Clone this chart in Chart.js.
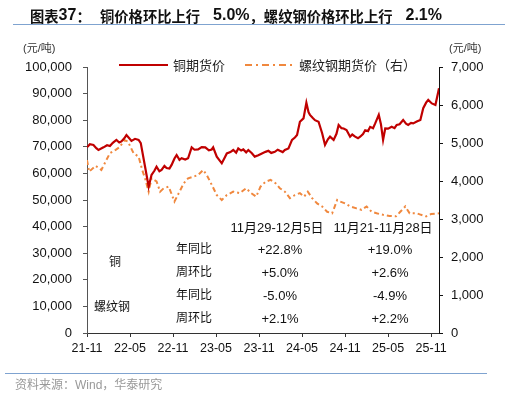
<!DOCTYPE html>
<html><head><meta charset="utf-8">
<script src="https://cdn.jsdelivr.net/npm/chart.js@4"></script>
<style>
html,body{margin:0;padding:0;background:#fff;}
#wrap{position:relative;width:520px;height:399px;overflow:hidden;font-family:"Liberation Sans","Noto Sans CJK SC",sans-serif;}
canvas{position:absolute;left:0;top:0;}
.t{position:absolute;white-space:nowrap;line-height:1;}
.hl{position:absolute;height:1px;background:#7FA3D0;}
.c{transform:translateX(-50%);}
.ti{position:absolute;top:0;height:30px;display:flex;align-items:center;white-space:nowrap;font-weight:bold;color:#111;}
.ti .z{font-family:"Noto Sans CJK SC";font-size:14.3px;}
.ti .n{font-family:"Liberation Sans";font-size:16px;}
</style></head><body>
<div id="wrap">
<canvas id="c" width="520" height="399"></canvas>
<div class="ti" style="left:30px;"><span class="z">图表</span><span class="n">37</span><span class="z">：</span></div>
<div class="ti" style="left:100px;"><span class="z">铜价格环比上行</span><span class="n" style="margin-left:13px;">5.0%</span><span class="z">，螺纹钢价格环比上行</span><span class="n" style="margin-left:13px;">2.1%</span></div>
<div class="hl" style="left:13px;top:24px;width:492px;"></div>
<div class="t" style="left:23px;top:43px;font-size:11px;color:#333;">(元/吨)</div>
<div class="t" style="left:449px;top:43px;font-size:11px;color:#333;">(元/吨)</div>
<div id="tbl"></div>
<div class="hl" style="left:5px;top:373px;width:482px;"></div>
<div class="t" style="left:15px;top:379px;font-size:12px;color:#999;">资料来源：Wind，华泰研究</div>
</div>
<script>
// ---- data (month index: 0 = 2021-11) ----
const xTickLabels = ["21-11","22-05","22-11","23-05","23-11","24-05","24-11","25-05","25-11"];
const copperMonths = [0,0.4,0.9,1.3,1.6,2.3,2.8,3.2,3.6,4.1,4.5,4.8,5.2,5.5,5.8,6.2,6.7,7.2,7.5,8.1,8.6,9.0,9.4,9.7,10.1,10.4,10.8,11.1,11.5,11.8,12.2,12.5,12.9,13.2,13.7,14.1,14.6,15.0,15.5,16.0,16.5,17.0,17.4,17.6,18.1,18.8,19.2,19.5,20.0,20.4,20.8,21.1,21.5,21.8,22.2,22.5,23.0,23.4,23.9,24.4,24.9,25.3,25.7,26.2,26.6,26.9,27.3,27.6,28.1,28.6,29.0,29.3,29.7,30.2,30.6,30.9,31.1,31.5,31.8,32.3,32.8,33.2,33.6,33.9,34.4,34.8,35.1,35.5,35.8,36.2,36.7,37.0,37.4,37.8,38.1,38.5,38.8,39.2,39.5,39.9,40.2,40.7,41.0,41.3,41.6,42.0,42.5,42.9,43.2,43.6,44.1,44.5,44.8,45.2,45.5,46.0,46.5,46.9,47.3,47.6,48.1,48.6,49.0,49.1];
const copperPrice = [69800,71000,70700,69500,68800,69800,70600,70300,71500,72600,71600,72000,73200,74400,73500,72200,73000,72600,71400,62500,55000,59400,61000,62500,60800,61300,62800,62000,61800,63200,65600,66900,65100,65700,65200,65700,69800,68900,69000,69900,69800,68700,69000,69800,66300,63800,65900,67500,68000,68800,67800,69400,68600,69000,67900,68800,67600,66300,66800,67500,68100,68500,67700,68100,68900,68500,68000,68800,69400,72600,73500,74400,79400,80700,86600,83000,82000,80800,80000,79400,75100,70700,72800,73800,72600,74900,78200,77000,76900,76300,73800,74600,73800,73200,73800,74800,76200,75900,77500,77000,78800,82000,78500,72600,76900,76800,77500,77000,78200,78500,80100,78700,78200,79000,78800,79500,80100,84500,86600,87600,86300,85700,90700,92000];
const rebarMonths = [0,0.3,1.2,2.0,2.7,3.2,4.0,4.6,5.2,5.7,6.5,7.2,7.7,8.1,8.6,9.0,9.7,10.2,10.7,11.4,12.2,12.8,13.5,14.1,14.8,15.5,16.2,16.7,17.4,18.1,18.8,19.5,20.4,21.3,22.2,22.9,23.6,24.2,24.9,25.6,26.3,26.9,27.6,28.3,29.0,29.7,30.3,30.8,31.4,32.1,32.8,33.5,34.2,34.9,35.3,36.0,36.7,37.6,38.3,39.0,39.7,40.4,41.3,42.2,43.1,43.7,44.4,45.0,46.0,46.6,47.3,48.0,49.1];
const rebarPrice = [4550,4245,4400,4290,4550,4730,4820,4900,5080,5040,4730,4640,4290,4070,3720,4070,3990,3720,3810,3850,3460,3680,3940,4070,4110,4160,4290,4160,3900,3630,3500,3630,3720,3680,3810,3680,3590,3850,3980,4030,3940,3810,3720,3550,3630,3680,3590,3720,3550,3410,3330,3190,3150,3500,3460,3410,3330,3280,3240,3330,3190,3150,3110,3080,3070,3190,3330,3150,3150,3110,3070,3130,3150];
const seriesNames = ["铜期货价","螺纹钢期货价（右）"];
const tableHeaders = ["11月29-12月5日","11月21-11月28日"];
const tableGroups = ["铜","螺纹钢"];
const tableRowLabels = ["年同比","周环比","年同比","周环比"];
const tableCol1 = ["+22.8%","+5.0%","-5.0%","+2.1%"];
const tableCol2 = ["+19.0%","+2.6%","-4.9%","+2.2%"];

// ---- table overlay ----
(function(){
  const t = document.getElementById('tbl');
  let h = '';
  h += `<div class="t c" style="left:277px;top:221px;font-size:13px;color:#111;">${tableHeaders[0]}</div>`;
  h += `<div class="t c" style="left:383px;top:221px;font-size:13px;color:#111;">${tableHeaders[1]}</div>`;
  h += `<div class="t c" style="left:115px;top:256px;font-size:12px;color:#111;">${tableGroups[0]}</div>`;
  h += `<div class="t c" style="left:112px;top:301px;font-size:12px;color:#111;">${tableGroups[1]}</div>`;
  const rowsY = [243,266,289,312];
  rowsY.forEach((y,i)=>{
    h += `<div class="t c" style="left:194px;top:${y}px;font-size:12px;color:#111;">${tableRowLabels[i]}</div>`;
    h += `<div class="t c" style="left:280px;top:${y}px;font-size:13px;color:#111;">${tableCol1[i]}</div>`;
    h += `<div class="t c" style="left:390px;top:${y}px;font-size:13px;color:#111;">${tableCol2[i]}</div>`;
  });
  t.innerHTML = h;
})();

const COPPER = "#C00000", REBAR = "#F0883E";
const rebarDash = [5,3,2,3];

const legendPlugin = {
  id:'customLegend',
  afterDraw(chart){
    const ctx = chart.ctx;
    ctx.save();
    ctx.lineWidth = 2;
    ctx.strokeStyle = COPPER; ctx.setLineDash([]);
    ctx.beginPath(); ctx.moveTo(119,65); ctx.lineTo(168,65); ctx.stroke();
    ctx.strokeStyle = REBAR; ctx.setLineDash([7,4,2,4]);
    ctx.beginPath(); ctx.moveTo(245,65); ctx.lineTo(293,65); ctx.stroke();
    ctx.setLineDash([]);
    ctx.fillStyle = "#222";
    ctx.font = '13px "Noto Sans CJK SC"';
    ctx.textBaseline = 'middle';
    ctx.fillText(seriesNames[0], 173, 65);
    ctx.fillText(seriesNames[1], 299, 65);
    ctx.restore();
  }
};

const toXY = (xs, ys) => xs.map((x,i)=>({x:x, y:ys[i]}));
const tickFont = {family:'"Liberation Sans", Arial, sans-serif', size:13};

new Chart(document.getElementById('c'), {
  type:'line',
  data:{datasets:[
    {label:seriesNames[0], data:toXY(copperMonths,copperPrice), yAxisID:'y', borderColor:COPPER, borderWidth:2.2, pointRadius:0, tension:0, fill:false},
    {label:seriesNames[1], data:toXY(rebarMonths,rebarPrice), yAxisID:'y1', borderColor:REBAR, borderWidth:2, borderDash:rebarDash, pointRadius:0, tension:0, fill:false}
  ]},
  options:{
    responsive:false, animation:false, devicePixelRatio:1,
    layout:{padding:{left:0,right:0,top:67,bottom:46}},
    plugins:{legend:{display:false}, tooltip:{enabled:false}},
    scales:{
      x:{type:'linear', min:0, max:49.1,
        afterFit(s){ s.height = 20; },
        afterBuildTicks(s){ s.ticks = xTickLabels.map((_,i)=>({value:i*6})); },
        grid:{display:true, drawOnChartArea:false, drawTicks:true, tickLength:4, color:'#333'},
        border:{display:true, color:'#333', width:1},
        ticks:{autoSkip:false, maxRotation:0, padding:4, color:'#111', font:{family:'"Liberation Sans", Arial, sans-serif', size:12.5},
          callback:(v)=> xTickLabels[Math.round(v/6)]}
      },
      y:{position:'left', min:0, max:100000,
        afterFit(s){ s.width = 87; },
        grid:{display:true, drawOnChartArea:false, drawTicks:true, tickLength:4, color:'#555'},
        border:{display:true, color:'#555', width:1},
        ticks:{stepSize:10000, padding:11, color:'#111', font:tickFont,
          callback:(v)=> v.toLocaleString('en-US')}
      },
      y1:{position:'right', min:0, max:7000,
        afterFit(s){ s.width = 81; },
        grid:{display:true, drawOnChartArea:false, drawTicks:true, tickLength:4, color:'#111'},
        border:{display:true, color:'#111', width:1},
        ticks:{stepSize:1000, padding:8, color:'#111', font:tickFont,
          callback:(v)=> v.toLocaleString('en-US')}
      }
    }
  },
  plugins:[legendPlugin]
});
</script>
</body></html>
